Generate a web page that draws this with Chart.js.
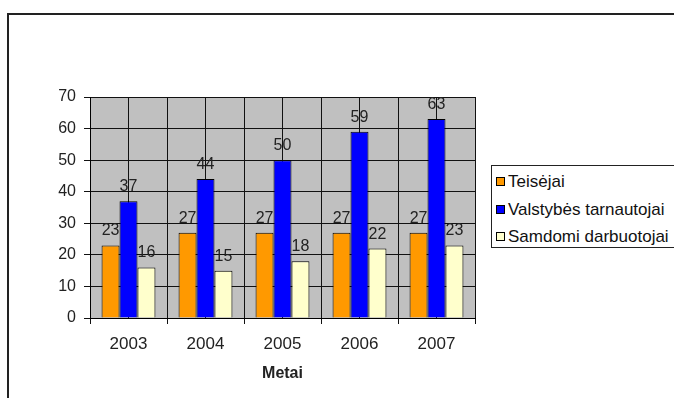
<!DOCTYPE html>
<html>
<head>
<meta charset="utf-8">
<script src="https://cdn.jsdelivr.net/npm/chart.js@4/dist/chart.umd.min.js"></script>
<style>
  html, body { margin: 0; padding: 0; background: #fff; overflow: hidden; }
  #wrap { position: relative; width: 674px; height: 398px; overflow: hidden; }
  #frame { position: absolute; left: 7px; top: 13px; width: 720px; height: 420px;
           border-top: 2px solid #222; border-left: 2px solid #222; box-sizing: border-box; }
  #chart { position: absolute; left: 0; top: 0; }
  #legend { position: absolute; left: 491px; top: 165px; width: 230px; height: 83px;
            border: 1px solid #222; box-sizing: border-box; background: #fff;
            font-family: "Liberation Sans", Arial, sans-serif; font-size: 17px; color: #111; }
  .item { position: absolute; left: 4px; height: 20px; line-height: 20px; white-space: nowrap; }
  .sw { display: inline-block; width: 7px; height: 7px; border: 1px solid #000;
        margin-right: 3px; vertical-align: 1px; }
</style>
</head>
<body>
<div id="wrap">
  <div id="frame"></div>
  <canvas id="chart" width="674" height="398"></canvas>
  <div id="legend"></div>
</div>
<script>
// Years on the category axis
const years = ['2003', '2004', '2005', '2006', '2007'];

// Series values
const judges = [23, 27, 27, 27, 27];
const civilServants = [37, 44, 50, 59, 63];
const employees = [16, 15, 18, 22, 23];

// Series names
const seriesNames = ['Teisėjai', 'Valstybės tarnautojai', 'Samdomi darbuotojai'];
const seriesColors = ['#FF9900', '#0000FF', '#FFFFCC'];

// Value axis ticks
const yMin = 0;
const yMax = 70;
const yStep = 10;

const axisTitle = 'Metai';
const FONT = '"Liberation Sans", Arial, sans-serif';

// Grey plot background
const plotBackground = {
  id: 'plotBackground',
  beforeDraw(chart) {
    const { ctx, chartArea: a } = chart;
    ctx.save();
    ctx.fillStyle = '#C0C0C0';
    ctx.fillRect(a.left, a.top, a.right - a.left, a.bottom - a.top);
    ctx.restore();
  }
};

// Value labels above each bar
const barValues = {
  id: 'barValues',
  afterDatasetsDraw(chart) {
    const { ctx } = chart;
    ctx.save();
    ctx.font = '16px ' + FONT;
    ctx.fillStyle = '#222';
    ctx.textAlign = 'center';
    ctx.textBaseline = 'alphabetic';
    chart.data.datasets.forEach((ds, i) => {
      chart.getDatasetMeta(i).data.forEach((bar, j) => {
        ctx.fillText(String(ds.data[j]), bar.x, bar.y - 10);
      });
    });
    ctx.restore();
  }
};

const seriesData = [judges, civilServants, employees];

new Chart(document.getElementById('chart'), {
  type: 'bar',
  data: {
    labels: years,
    datasets: seriesData.map((d, i) => ({
      label: seriesNames[i],
      data: d,
      backgroundColor: seriesColors[i],
      borderColor: '#000',
      borderWidth: 1,
      categoryPercentage: 0.7,
      barPercentage: 1.0,
      xAxisID: 'x',
      yAxisID: 'y'
    }))
  },
  options: {
    responsive: false,
    animation: false,
    events: [],
    layout: { padding: { top: 97, right: 199, left: 0, bottom: 0 } },
    plugins: { legend: { display: false }, tooltip: { enabled: false }, title: { display: false } },
    scales: {
      x: {
        type: 'category',
        position: 'bottom',
        offset: true,
        grid: { color: '#111', lineWidth: 1, offset: true, drawOnChartArea: true, drawTicks: true, tickLength: 6, tickColor: '#111' },
        border: { color: '#000', width: 1 },
        ticks: { color: '#222', font: { family: FONT, size: 17 }, padding: 10, maxRotation: 0 },
        title: { display: true, text: axisTitle, color: '#222', font: { family: FONT, size: 16, weight: 'bold' }, padding: { top: 15, bottom: 15 } },
        afterFit(scale) { scale.height = 80; }
      },
      xMid: {
        type: 'category',
        position: 'top',
        offset: true,
        grid: { color: '#111', lineWidth: 1, offset: false, drawOnChartArea: true, drawTicks: false },
        border: { display: false },
        ticks: { display: false },
        afterFit(scale) { scale.height = 0; }
      },
      y: {
        min: yMin,
        max: yMax,
        ticks: { stepSize: yStep, color: '#222', font: { family: FONT, size: 16 }, padding: 8 },
        grid: { color: '#111', lineWidth: 1, drawTicks: true, tickLength: 6, tickColor: '#111' },
        border: { color: '#000', width: 1 },
        afterFit(scale) { scale.width = 90; }
      }
    }
  },
  plugins: [plotBackground, barValues]
});

// Legend built from the series
const legend = document.getElementById('legend');
seriesNames.forEach((name, i) => {
  const item = document.createElement('div');
  item.className = 'item';
  item.style.top = (6 + i * 27.5) + 'px';
  const sw = document.createElement('span');
  sw.className = 'sw';
  sw.style.background = seriesColors[i];
  item.appendChild(sw);
  item.appendChild(document.createTextNode(name));
  legend.appendChild(item);
});
</script>
</body>
</html>
